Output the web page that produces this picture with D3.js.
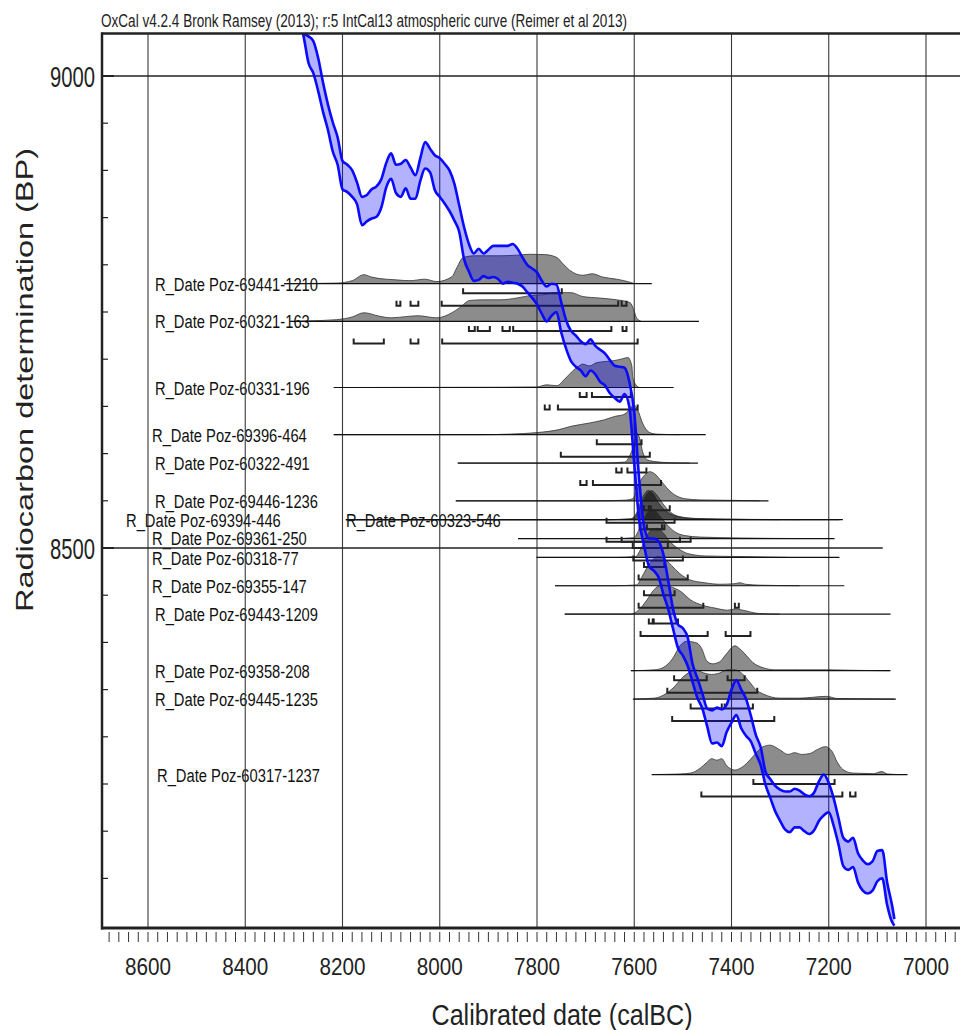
<!DOCTYPE html>
<html><head><meta charset="utf-8">
<script src="https://cdn.jsdelivr.net/npm/d3@7"></script>
<style>body{margin:0;background:#fff}svg{display:block}</style>
</head><body><svg id="c" width="960" height="1030"></svg>
<script>
// ---------- data ----------
const titleText = "OxCal v4.2.4 Bronk Ramsey (2013); r:5 IntCal13 atmospheric curve (Reimer et al 2013)";
const xTitle = "Calibrated date (calBC)";
const yTitle = "Radiocarbon determination (BP)";
const xTickValues = [8600,8400,8200,8000,7800,7600,7400,7200,7000];
const yTickValues = [9000,8500];

// IntCal13 band: cal BC, upper edge BP, lower edge BP
const curveCal = [8290,8280,8270,8260,8250,8240,8230,8220,8210,8200,8190,8180,8170,8160,8150,8140,8130,8120,8110,8100,8090,8080,8070,8060,8050,8040,8030,8020,8010,8000,7990,7980,7970,7960,7950,7940,7930,7920,7910,7900,7890,7880,7870,7860,7850,7840,7830,7820,7810,7800,7790,7780,7770,7760,7750,7740,7730,7720,7710,7700,7690,7680,7670,7660,7650,7640,7630,7620,7610,7600,7590,7580,7570,7560,7550,7540,7530,7520,7510,7500,7490,7480,7470,7460,7450,7440,7430,7420,7410,7400,7390,7380,7370,7360,7350,7340,7330,7320,7310,7300,7290,7280,7270,7260,7250,7240,7230,7220,7210,7200,7190,7180,7170,7160,7150,7140,7130,7120,7110,7100,7090,7080,7070,7065];
const curveHi = [9070,9045,9042,9037,9019,8993,8970,8951,8935,8910,8906,8900,8887,8872,8874,8880,8883,8891,8908,8918,8906,8907,8911,8903,8895,8913,8930,8923,8916,8913,8907,8900,8886,8863,8840,8822,8812,8817,8812,8816,8820,8820,8820,8820,8822,8817,8808,8800,8796,8792,8783,8777,8780,8779,8760,8741,8730,8725,8719,8716,8721,8714,8710,8706,8699,8693,8692,8691,8676,8644,8574,8524,8510,8510,8507,8493,8465,8435,8419,8415,8405,8377,8362,8346,8330,8328,8331,8329,8334,8350,8360,8350,8340,8322,8302,8289,8263,8255,8248,8244,8242,8242,8245,8243,8239,8237,8241,8253,8260,8251,8235,8214,8193,8189,8193,8177,8169,8165,8168,8179,8180,8146,8122,8107];
const curveLo = [9061,9042,9014,9003,8984,8962,8943,8920,8906,8880,8877,8872,8864,8842,8846,8849,8851,8861,8882,8891,8876,8872,8881,8870,8870,8889,8902,8898,8879,8872,8865,8857,8847,8835,8806,8793,8783,8784,8788,8786,8787,8785,8780,8782,8781,8780,8777,8771,8765,8758,8748,8740,8746,8750,8728,8711,8698,8692,8688,8682,8688,8684,8676,8672,8664,8659,8655,8663,8649,8589,8530,8503,8481,8476,8469,8451,8435,8414,8394,8386,8375,8358,8341,8330,8311,8293,8294,8290,8305,8315,8323,8309,8301,8295,8282,8270,8249,8235,8221,8211,8202,8199,8204,8204,8200,8197,8201,8211,8217,8220,8206,8186,8163,8159,8162,8146,8137,8134,8137,8147,8150,8122,8104,8100];

const dateNames = ["R_Date Poz-69441-1210","R_Date Poz-60321-163","R_Date Poz-60331-196","R_Date Poz-69396-464","R_Date Poz-60322-491","R_Date Poz-69446-1236","R_Date Poz-69394-446","R_Date Poz-60323-546","R_Date Poz-69361-250","R_Date Poz-60318-77","R_Date Poz-69355-147","R_Date Poz-69443-1209","R_Date Poz-69358-208","R_Date Poz-69445-1235","R_Date Poz-60317-1237"];
const dateBP = [8780,8740,8670,8620,8590,8550,8530,8530,8510,8490,8460,8430,8370,8340,8260];
const rangeFrom = [8320,8308,8218,8218,7963,7967,8193,8193,7839,7801,7763,7743,7607,7602,7564];
const rangeTo = [7564,7467,7519,7453,7469,7324,7171,7178,7188,7178,7168,7073,7073,7062,7038];

const distCal = [
 [8320,8212,8180,8156,8140,8123,8092,8061,8031,8006,7975,7965,7952,7928,7876,7842,7815,7784,7759,7747,7733,7706,7686,7665,7636,7609,7599],
 [8308,8267,8212,8180,8156,8123,8100,8070,8045,8006,7975,7959,7938,7911,7876,7842,7815,7788,7763,7730,7706,7671,7636,7609,7601,7595,7585],
 [8218,7876,7800,7780,7759,7743,7726,7716,7706,7692,7677,7657,7644,7624,7613,7605,7603,7595,7589],
 [8218,7918,7856,7800,7755,7730,7692,7661,7640,7622,7610,7601,7593,7583,7568,7554,7507],
 [7963,7671,7620,7610,7603,7595,7589,7583,7573,7558,7527,7486],
 [7967,7671,7620,7603,7597,7589,7578,7568,7558,7548,7533,7517,7496,7465,7424,7342],
 [8193,7671,7609,7597,7589,7580,7572,7562,7552,7538,7517,7486,7424,7301],
 [8193,7650,7605,7595,7585,7574,7564,7554,7541,7527,7506,7465,7363,7260],
 [7839,7640,7601,7591,7580,7570,7560,7548,7533,7517,7496,7465,7383,7260],
 [7801,7640,7597,7587,7576,7566,7554,7541,7527,7510,7490,7455,7383,7280],
 [7763,7640,7595,7585,7574,7564,7552,7538,7523,7506,7486,7455,7424,7393,7383,7371,7342,7260],
 [7743,7609,7591,7574,7560,7543,7527,7504,7484,7461,7434,7408,7393,7377,7344,7301],
 [7607,7558,7541,7520,7506,7492,7471,7461,7451,7439,7424,7410,7393,7383,7369,7356,7335,7311,7260,7204,7136,7075],
 [7603,7558,7533,7520,7500,7486,7474,7457,7441,7424,7408,7392,7377,7363,7349,7335,7301,7260,7204,7184,7136,7065],
 [7564,7506,7484,7463,7451,7441,7430,7420,7410,7393,7383,7369,7353,7335,7321,7301,7284,7270,7256,7239,7225,7207,7193,7183,7171,7151,7130,7108,7091,7079,7054]
];
const distProb = [
 [0,0.02,0.1,0.30,0.22,0.17,0.13,0.10,0.15,0.07,0.23,0.53,0.87,0.93,0.93,0.95,0.98,0.97,0.87,0.67,0.45,0.28,0.33,0.22,0.15,0.05,0],
 [0,0.02,0.06,0.15,0.29,0.17,0.12,0.16,0.19,0.12,0.29,0.46,0.70,0.72,0.72,0.78,0.86,0.89,0.96,0.96,0.83,0.78,0.72,0.63,0.39,0.11,0],
 [0,0.01,0.02,0.09,0.06,0.28,0.56,0.69,0.78,0.72,0.83,0.87,0.89,0.96,1.0,0.72,0.33,0.06,0],
 [0,0,0.02,0.07,0.17,0.28,0.39,0.50,0.61,0.67,0.83,1.0,0.83,0.39,0.07,0.02,0],
 [0,0,0.03,0.22,0.5,1.0,0.83,0.39,0.11,0.05,0.01,0],
 [0,0,0.02,0.07,0.27,0.6,0.87,0.97,0.9,0.73,0.43,0.2,0.07,0.03,0.02,0],
 [0,0,0.02,0.17,0.5,0.83,0.97,0.87,0.6,0.33,0.13,0.05,0.02,0],
 [0,0,0.03,0.2,0.53,0.87,0.97,0.83,0.53,0.27,0.1,0.03,0.01,0],
 [0,0,0.03,0.27,0.67,0.93,0.97,0.77,0.47,0.23,0.1,0.05,0.02,0],
 [0,0,0.03,0.27,0.67,0.9,0.97,0.83,0.53,0.3,0.13,0.05,0.03,0],
 [0,0,0.03,0.27,0.6,0.83,0.97,0.9,0.67,0.4,0.2,0.1,0.05,0.07,0.1,0.05,0.02,0],
 [0,0,0.13,0.47,0.8,0.97,0.92,0.75,0.47,0.3,0.2,0.13,0.17,0.13,0.02,0],
 [0,0.03,0.1,0.43,0.83,0.98,0.92,0.73,0.33,0.23,0.3,0.57,0.83,0.73,0.5,0.27,0.1,0.03,0.03,0.03,0.01,0],
 [0,0.03,0.2,0.37,0.73,0.9,0.97,0.87,0.82,0.87,0.98,0.97,0.83,0.57,0.3,0.17,0.03,0.03,0.09,0.02,0.01,0],
 [0,0.02,0.05,0.23,0.4,0.53,0.48,0.53,0.3,0.15,0.2,0.37,0.65,0.93,0.98,0.83,0.67,0.73,0.67,0.7,0.82,0.93,0.77,0.43,0.17,0.05,0.04,0.03,0.1,0.02,0]
];
const range68 = [
 [[7952,7749]],
 [[7940,7928],[7922,7897],[7871,7856],[7849,7647],[7624,7616]],
 [[7712,7698],[7687,7607]],
 [[7677,7585]],
 [[7637,7626],[7614,7575]],
 [[7580,7570],[7566,7527]],
 [[7589,7543]],
 [[7574,7538]],
 [[7603,7531]],
 [[7580,7538]],
 [[7580,7517]],
 [[7570,7562],[7560,7510]],
 [[7518,7451],[7408,7373]],
 [[7484,7420],[7414,7356]],
 [[7355,7188]]
];
const range95 = [
 [[8089,8081],[8060,8044],[7996,7633],[7626,7616]],
 [[8177,8115],[8060,8044],[7995,7593]],
 [[7784,7774],[7757,7593]],
 [[7751,7568]],
 [[7711,7698],[7685,7545]],
 [[7657,7517]],
 [[7657,7484]],
 [[7626,7506]],
 [[7602,7500]],
 [[7591,7490]],
 [[7591,7458],[7393,7385]],
 [[7587,7449],[7412,7361]],
 [[7532,7347]],
 [[7522,7312]],
 [[7462,7172],[7156,7145]]
];

// ---------- layout ----------
const L = 102, R = 960, T = 33.5, B = 928;
const FONT = "'Liberation Sans', Arial, sans-serif";
const labelXs = [155,155,155,152,155,155,126,346,152,152,152,155,155,155,157];
const labelDy = [7,7,7,7,7,7,7,7,6,8,7,7,7,7,7];

const svg = d3.select('#c');
const x = d3.scaleLinear().domain([8600, 7000]).range([148, 926]);
const y = d3.scaleLinear().domain([9000, 8500]).range([76, 548]);
const hgt = d3.scaleLinear().domain([0, 1]).range([0, 30]);

svg.append('defs').append('clipPath').attr('id','plotclip')
  .append('rect').attr('x', L).attr('y', T).attr('width', R - L).attr('height', B - T);

// labels (drawn first so lines cross them)
const LAB_FS = 18;
const gLab = svg.append('g');
const tmp = gLab.append('text').attr('font-size', LAB_FS).attr('font-family', FONT).text(dateNames[0]);
const labFactor = 163 / tmp.node().getComputedTextLength();
tmp.remove();
dateNames.forEach((nm, i) => {
  const t = gLab.append('text')
    .attr('x', labelXs[i]).attr('y', y(dateBP[i]) + labelDy[i])
    .attr('font-size', LAB_FS).attr('font-family', FONT).attr('fill', '#111').text(nm);
  const w = t.node().getComputedTextLength();
  t.attr('textLength', w * labFactor).attr('lengthAdjust', 'spacingAndGlyphs');
});

// grid
const gGrid = svg.append('g');
gGrid.selectAll('line.v').data(xTickValues).join('line')
  .attr('x1', d => x(d)).attr('x2', d => x(d)).attr('y1', T).attr('y2', B)
  .attr('stroke', '#3a3a3a').attr('stroke-width', 1.1);
gGrid.append('line').attr('x1', L).attr('x2', R).attr('y1', y(9000)).attr('y2', y(9000))
  .attr('stroke', '#222').attr('stroke-width', 1.4);
gGrid.append('line').attr('x1', L).attr('x2', x(7089)).attr('y1', y(8500)).attr('y2', y(8500))
  .attr('stroke', '#222').attr('stroke-width', 1.4);

const plot = svg.append('g').attr('clip-path', 'url(#plotclip)');

// distributions
const gDist = plot.append('g');
dateBP.forEach((bp, i) => {
  const pts = distCal[i].map((c, k) => [c, distProb[i][k]]);
  const area = d3.area().x(d => x(d[0])).y0(y(bp)).y1(d => y(bp) - hgt(d[1])).curve(d3.curveMonotoneX);
  const line = d3.line().x(d => x(d[0])).y(d => y(bp) - hgt(d[1])).curve(d3.curveMonotoneX);
  gDist.append('path').attr('d', area(pts)).attr('fill', '#000').attr('fill-opacity', 0.45);
  gDist.append('path').attr('d', line(pts)).attr('fill', 'none').attr('stroke', '#333').attr('stroke-width', 0.8);
});
// baselines
dateBP.forEach((bp, i) => {
  gDist.append('line').attr('x1', x(rangeFrom[i])).attr('x2', x(rangeTo[i]))
    .attr('y1', y(bp)).attr('y2', y(bp)).attr('stroke', '#111').attr('stroke-width', 1.2);
});
// range brackets
function bracket(g, a, b, yy) {
  const x1 = x(a), x2 = x(b);
  g.append('path').attr('d', `M${x1},${yy - 5}V${yy}H${x2}V${yy - 5}`)
    .attr('fill', 'none').attr('stroke', '#222').attr('stroke-width', 2);
}
dateBP.forEach((bp, i) => {
  range68[i].forEach(r => bracket(gDist, r[0], r[1], y(bp) + 9.5));
  range95[i].forEach(r => bracket(gDist, r[0], r[1], y(bp) + 22));
});

// calibration curve band
const band = curveCal.map((c, k) => ({c, hi: curveHi[k], lo: curveLo[k]}));
const gCurve = plot.append('g');
gCurve.append('path')
  .attr('d', d3.area().x(d => x(d.c)).y0(d => y(d.lo)).y1(d => y(d.hi)).curve(d3.curveMonotoneX)(band))
  .attr('fill', '#0000ff').attr('fill-opacity', 0.3);
['hi', 'lo'].forEach(k => {
  gCurve.append('path')
    .attr('d', d3.line().x(d => x(d.c)).y(d => y(d[k])).curve(d3.curveMonotoneX)(band))
    .attr('fill', 'none').attr('stroke', '#0a0aff').attr('stroke-width', 2.6).attr('stroke-linejoin', 'round');
});

// axes frame
const gAx = svg.append('g');
gAx.append('line').attr('x1', L - 1).attr('x2', R).attr('y1', T).attr('y2', T).attr('stroke', '#222').attr('stroke-width', 2.5);
gAx.append('line').attr('x1', L - 1).attr('x2', R).attr('y1', B).attr('y2', B).attr('stroke', '#222').attr('stroke-width', 3);
gAx.append('line').attr('x1', L).attr('x2', L).attr('y1', T - 1).attr('y2', B + 1.5).attr('stroke', '#222').attr('stroke-width', 2.5);

// x minor ticks
const xMinor = d3.range(8680, 6935, -20);
gAx.selectAll('line.xt').data(xMinor).join('line')
  .attr('x1', d => x(d)).attr('x2', d => x(d)).attr('y1', B + 4).attr('y2', B + 14)
  .attr('stroke', '#333').attr('stroke-width', 1);
// y ticks
const yMinor = d3.range(9000, 8100, -50);
gAx.selectAll('line.yt').data(yMinor).join('line')
  .attr('x1', L).attr('x2', d => yTickValues.includes(d) ? L + 12 : L + 6)
  .attr('y1', d => y(d)).attr('y2', d => y(d))
  .attr('stroke', '#222').attr('stroke-width', d => yTickValues.includes(d) ? 2 : 1.2);

// tick labels
gAx.selectAll('text.xl').data(xTickValues).join('text')
  .attr('x', d => x(d)).attr('y', 975).attr('text-anchor', 'middle')
  .attr('font-size', 24).attr('font-family', FONT).attr('fill', '#222')
  .attr('textLength', 46).attr('lengthAdjust', 'spacingAndGlyphs').text(d => d);
gAx.selectAll('text.yl').data(yTickValues).join('text')
  .attr('x', 95).attr('y', d => y(d) + 10.5).attr('text-anchor', 'end')
  .attr('font-size', 29).attr('font-family', FONT).attr('fill', '#222')
  .attr('textLength', 45).attr('lengthAdjust', 'spacingAndGlyphs').text(d => d);

// titles
svg.append('text').attr('x', 101).attr('y', 27).attr('font-size', 17.5).attr('font-family', FONT)
  .attr('fill', '#222').attr('textLength', 526).attr('lengthAdjust', 'spacingAndGlyphs').text(titleText);
svg.append('text').attr('x', 562).attr('y', 1025).attr('text-anchor', 'middle').attr('font-size', 30)
  .attr('font-family', FONT).attr('fill', '#222').attr('textLength', 261).attr('lengthAdjust', 'spacingAndGlyphs').text(xTitle);
svg.append('text').attr('transform', 'translate(33,380) rotate(-90)').attr('text-anchor', 'middle')
  .attr('font-size', 24).attr('font-family', FONT).attr('fill', '#222')
  .attr('textLength', 464).attr('lengthAdjust', 'spacingAndGlyphs').text(yTitle);
</script></body></html>
